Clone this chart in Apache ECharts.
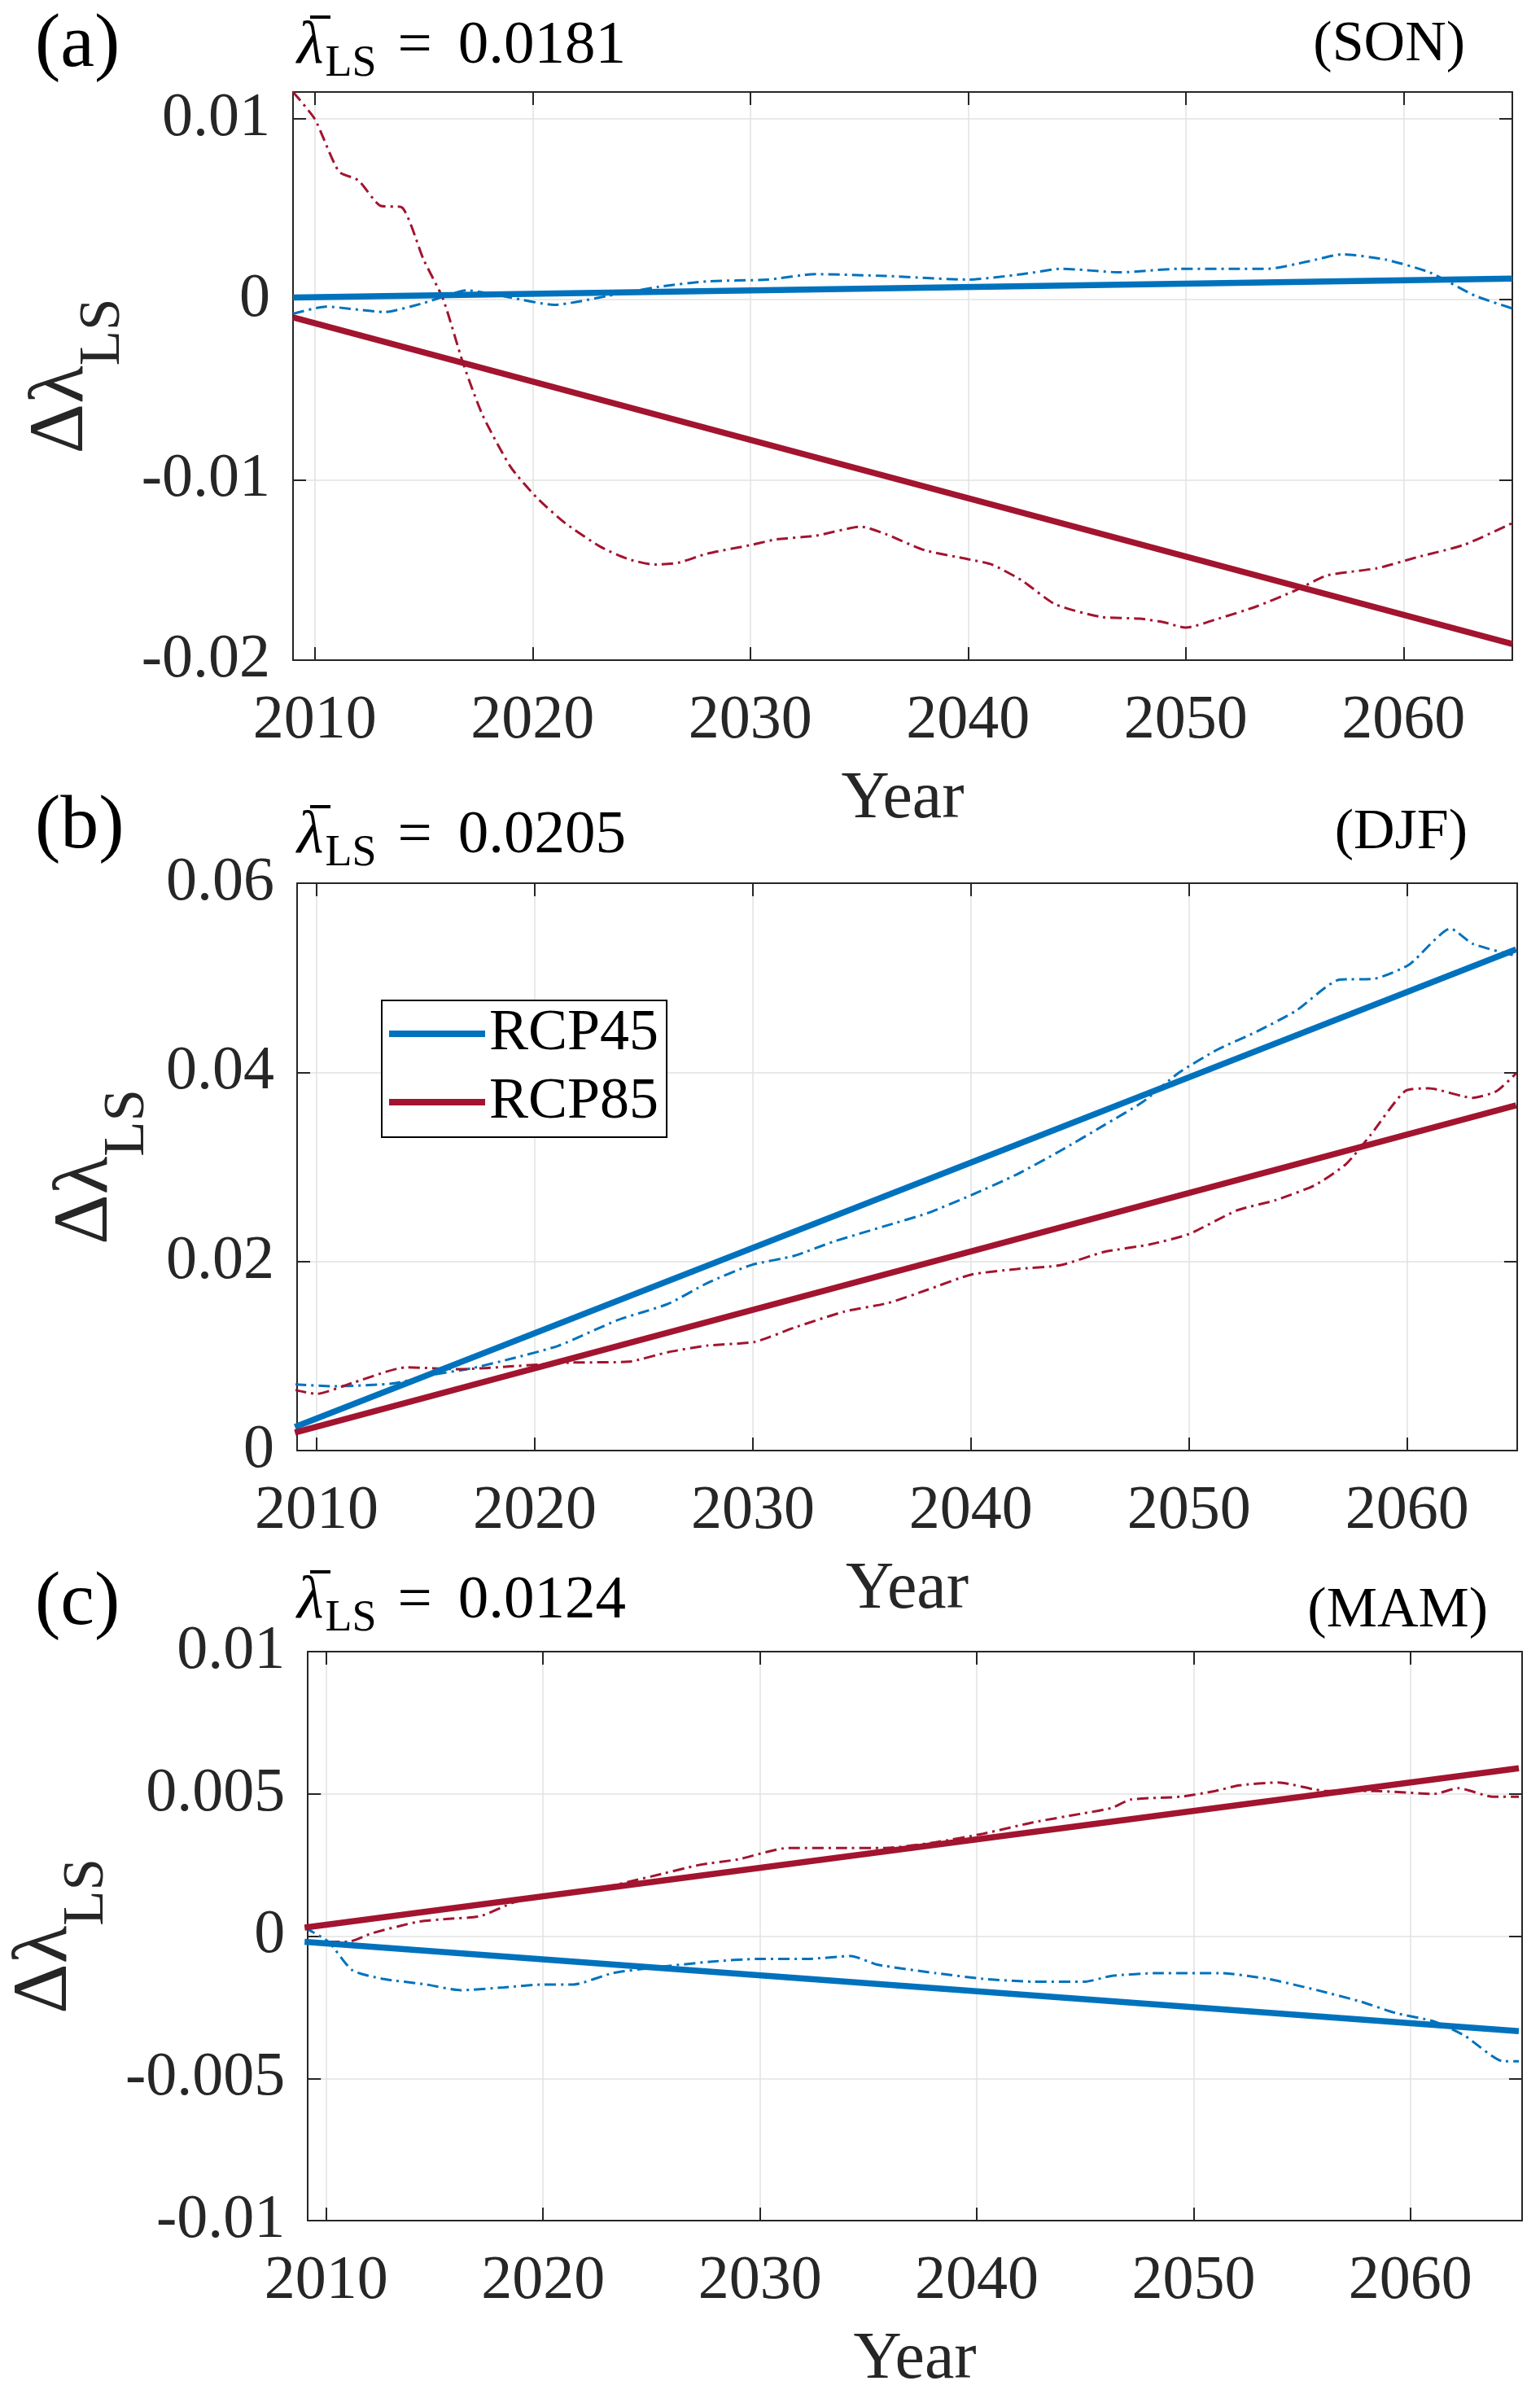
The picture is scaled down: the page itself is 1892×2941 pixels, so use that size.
<!DOCTYPE html>
<html>
<head>
<meta charset="utf-8">
<script src="https://cdn.jsdelivr.net/npm/echarts@6/dist/echarts.min.js"></script>
<style>
  html, body { margin: 0; padding: 0; background: #fff; }
  #container { width: 1892px; height: 2941px; }
</style>
</head>
<body>
<div id="container"></div>
<script>
// data (years, delta lambda_LS)
var fitYears = [2009, 2065];

// (a) SON
var sonYears45 = [2009, 2010.5, 2013.2, 2015, 2017, 2019, 2021, 2023.5, 2025.8, 2028, 2030.8, 2033, 2036.2, 2040, 2042.5, 2044.3, 2047, 2049.7, 2052.2, 2053.8, 2055.6, 2057.2, 2059.2, 2061.2, 2063.3, 2065];
var son45 = [-0.0008, -0.0004, -0.0007, -0.0002, 0.0005, 0.0001, -0.0003, 0.0002, 0.0007, 0.0010, 0.0011, 0.0014, 0.0013, 0.0011, 0.0014, 0.0017, 0.0015, 0.0017, 0.0017, 0.0017, 0.0021, 0.0025, 0.0022, 0.0015, 0.0002, -0.0005];
var sonYears85 = [2009, 2010, 2011.1, 2012, 2013, 2014, 2015, 2015.9, 2016.8, 2017.7, 2019, 2020.2, 2021.5, 2023.1, 2024.4, 2025.6, 2026.7, 2028, 2030.1, 2031.2, 2033, 2035.1, 2036.2, 2038, 2040, 2041.1, 2042.5, 2044, 2046.1, 2047.9, 2049, 2050, 2051.5, 2053.3, 2055.1, 2056.5, 2058.8, 2060.6, 2062.8, 2065];
var son85 = [0.0115, 0.0100, 0.0071, 0.0066, 0.0052, 0.0051, 0.0022, 0.0000, -0.0035, -0.0064, -0.0093, -0.0110, -0.0124, -0.0137, -0.0144, -0.0147, -0.0146, -0.0141, -0.0136, -0.0133, -0.0131, -0.0126, -0.0130, -0.0139, -0.0144, -0.0147, -0.0156, -0.0169, -0.0176, -0.0177, -0.0179, -0.0182, -0.0177, -0.0170, -0.0161, -0.0153, -0.0149, -0.0143, -0.0136, -0.0124];
var sonFit45 = [0.0001, 0.00115];
var sonFit85 = [-0.0010, -0.0191];

// (b) DJF
var djfYears45 = [2009, 2010.8, 2013.5, 2015.3, 2017.1, 2018.9, 2021.1, 2023.8, 2026.1, 2027.9, 2029.9, 2031.9, 2033.7, 2036, 2038, 2040, 2042.1, 2044.1, 2046.1, 2047.9, 2049.5, 2051.3, 2053.1, 2054.9, 2056.9, 2058.5, 2060.1, 2062, 2063, 2065];
var djf45 = [0.0070, 0.0068, 0.0071, 0.0080, 0.0087, 0.0097, 0.0111, 0.0138, 0.0155, 0.0177, 0.0196, 0.0206, 0.0221, 0.0237, 0.0251, 0.0270, 0.0292, 0.0317, 0.0344, 0.0369, 0.0399, 0.0424, 0.0443, 0.0465, 0.0498, 0.0499, 0.0514, 0.0552, 0.0536, 0.0523];
var djfYears85 = [2009, 2010, 2011.7, 2014.1, 2016.6, 2018.9, 2021.6, 2024.3, 2026.1, 2027.9, 2030.1, 2031.9, 2034.2, 2036.2, 2038, 2040, 2042.1, 2044.1, 2046.1, 2048.2, 2050, 2052.2, 2054, 2055.8, 2057.2, 2058.3, 2059.9, 2061, 2063, 2064.1, 2065];
var djf85 = [0.0064, 0.0060, 0.0072, 0.0088, 0.0086, 0.0089, 0.0093, 0.0094, 0.0104, 0.0111, 0.0115, 0.0130, 0.0147, 0.0156, 0.0170, 0.0186, 0.0192, 0.0196, 0.0210, 0.0218, 0.0229, 0.0254, 0.0265, 0.0281, 0.0303, 0.0333, 0.0380, 0.0383, 0.0373, 0.0380, 0.0399];
var djfFit45 = [0.0025, 0.0530];
var djfFit85 = [0.0019, 0.0365];

// (c) MAM
var mamYears45 = [2009, 2010.1, 2011.2, 2012.6, 2014.6, 2016.2, 2018.2, 2020, 2021.4, 2023.2, 2025.2, 2027.7, 2029.9, 2032.2, 2034.2, 2035.4, 2038.1, 2040.3, 2042.6, 2045, 2046.2, 2048.4, 2051.2, 2053.4, 2055.7, 2057.7, 2059.3, 2061.1, 2062.5, 2064.3, 2065];
var mam45 = [0.0003, -0.0002, -0.0012, -0.0015, -0.0017, -0.0019, -0.0018, -0.0017, -0.0017, -0.0013, -0.0011, -0.0009, -0.0008, -0.0008, -0.0007, -0.0010, -0.0013, -0.0015, -0.0016, -0.0016, -0.0014, -0.0013, -0.0013, -0.0015, -0.0019, -0.0023, -0.0027, -0.0030, -0.0035, -0.0044, -0.0044];
var mamYears85 = [2009, 2011, 2012.1, 2014.2, 2015.5, 2017.1, 2018.7, 2020.5, 2022.7, 2025, 2027.2, 2029, 2031.3, 2033.6, 2035.8, 2038.1, 2040.3, 2042.6, 2044.8, 2046.2, 2047.1, 2049.4, 2051, 2052.1, 2053.9, 2056.1, 2058.4, 2061.1, 2062.2, 2063.8, 2065];
var mam85 = [-0.0002, -0.0002, 0.0001, 0.0005, 0.0006, 0.0007, 0.0012, 0.0015, 0.0017, 0.0021, 0.0025, 0.0027, 0.0031, 0.0031, 0.0031, 0.0033, 0.0036, 0.0040, 0.0043, 0.0045, 0.0048, 0.0049, 0.0051, 0.0053, 0.0054, 0.0051, 0.0051, 0.0050, 0.0052, 0.0049, 0.0049];
var mamFit45 = [-0.0002, -0.00334];
var mamFit85 = [0.0003, 0.0059];

var panelTags = ['(a)', '(b)', '(c)'];
var seasons = ['(SON)', '(DJF)', '(MAM)'];
var meanLambda = ['0.0181', '0.0205', '0.0124'];

var BLUE = '#0072BD';
var RED = '#A2142F';
var INK = '#262626';
var FONT = 'Liberation Serif';

var dom = document.getElementById('container');
var myChart = echarts.init(dom, null, { renderer: 'canvas' });

function pairs(xs, ys) {
    return xs.map(function (x, i) { return [x, ys[i]]; });
}

// layout of the three panels
var panels = [
    { grid: { left: 360, top: 113, width: 1498, height: 698 }, xMin: 2009, xMax: 2065,
      yMin: -0.02, yMax: 0.0115, yStep: 0.01, yMaxLabel: false,
      tagTop: 9, meanTop: 20, seasonTop: 21, seasonRight: 92,
      s45: pairs(sonYears45, son45), s85: pairs(sonYears85, son85),
      f45: pairs(fitYears, sonFit45), f85: pairs(fitYears, sonFit85) },
    { grid: { left: 365, top: 1085, width: 1499, height: 697 }, xMin: 2009.1, xMax: 2065.05,
      yMin: 0, yMax: 0.06, yStep: 0.02, yMaxLabel: true,
      tagTop: 969, meanTop: 990, seasonTop: 989, seasonRight: 89,
      s45: pairs(djfYears45, djf45), s85: pairs(djfYears85, djf85),
      f45: pairs(fitYears, djfFit45), f85: pairs(fitYears, djfFit85) },
    { grid: { left: 374, top: 2029, width: 1496, height: 712 }, xMin: 2009.15, xMax: 2065.15,
      yMin: -0.01, yMax: 0.01, yStep: 0.005, yMaxLabel: true,
      tagTop: 1923, meanTop: 1930, seasonTop: 1945, seasonRight: 64,
      s45: pairs(mamYears45, mam45), s85: pairs(mamYears85, mam85),
      f45: pairs(fitYears, mamFit45), f85: pairs(fitYears, mamFit85) }
];

var boxLine = { show: true, onZero: false, lineStyle: { color: INK, width: 2 } };
var inTick = { show: true, inside: true, length: 16, lineStyle: { color: INK, width: 2 } };
var gridLine = { show: true, lineStyle: { color: '#e2e2e2', width: 1.5 } };

var grids = [], xAxes = [], yAxes = [], series = [], titles = [], bars = [];

panels.forEach(function (p, i) {
    grids.push(p.grid);

    xAxes.push({
        type: 'value', gridIndex: i, position: 'bottom', min: p.xMin, max: p.xMax, splitNumber: 5,
        name: 'Year', nameLocation: 'middle', nameGap: 130,
        nameTextStyle: { fontFamily: FONT, fontSize: 82, lineHeight: 82, color: INK },
        axisLine: boxLine, axisTick: inTick, splitLine: gridLine,
        axisLabel: { margin: 37, fontFamily: FONT, fontSize: 76, lineHeight: 76, color: INK,
                     showMinLabel: false, showMaxLabel: false,
                     formatter: function (v) { return String(v); } }
    });
    xAxes.push({
        type: 'value', gridIndex: i, position: 'top', min: p.xMin, max: p.xMax, splitNumber: 5,
        axisLine: boxLine, axisTick: inTick, splitLine: { show: false }, axisLabel: { show: false }
    });

    yAxes.push({
        type: 'value', gridIndex: i, position: 'left', min: p.yMin, max: p.yMax, interval: p.yStep,
        name: '{d|Δλ}{s|LS}', nameLocation: 'middle', nameRotate: 90, nameGap: 199,
        nameTextStyle: {
            color: INK,
            rich: {
                d: { fontFamily: FONT, fontSize: 96, lineHeight: 96, verticalAlign: 'top', color: INK },
                s: { fontFamily: FONT, fontSize: 71, lineHeight: 71, verticalAlign: 'top', padding: [64, 0, 0, 0], color: INK }
            }
        },
        axisLine: boxLine, axisTick: inTick, splitLine: gridLine,
        axisLabel: { margin: 28, fontFamily: FONT, fontSize: 76, color: INK, showMaxLabel: p.yMaxLabel }
    });
    yAxes.push({
        type: 'value', gridIndex: i, position: 'right', min: p.yMin, max: p.yMax, interval: p.yStep,
        axisLine: boxLine, axisTick: inTick, splitLine: { show: false }, axisLabel: { show: false }
    });

    var ax = { xAxisIndex: 2 * i, yAxisIndex: 2 * i, type: 'line', symbol: 'none', showSymbol: false, silent: true };
    series.push(Object.assign({ name: 'RCP45 series', data: p.s45, smooth: 0.2,
        itemStyle: { color: BLUE }, lineStyle: { color: BLUE, width: 3, type: [14, 6, 3, 6] } }, ax));
    series.push(Object.assign({ name: 'RCP85 series', data: p.s85, smooth: 0.2,
        itemStyle: { color: RED }, lineStyle: { color: RED, width: 3, type: [14, 6, 3, 6] } }, ax));
    series.push(Object.assign({ name: 'RCP45', data: p.f45,
        itemStyle: { color: BLUE }, lineStyle: { color: BLUE, width: 7.5 } }, ax));
    series.push(Object.assign({ name: 'RCP85', data: p.f85,
        itemStyle: { color: RED }, lineStyle: { color: RED, width: 7.5 } }, ax));

    titles.push({
        text: panelTags[i], left: 43, top: p.tagTop, padding: 0,
        textStyle: { fontFamily: FONT, fontSize: 94, lineHeight: 94, fontWeight: 'normal', color: '#000' }
    });
    titles.push({
        text: '{l|\u03BB}{s|LS}{e|=}{n|' + meanLambda[i] + '}', left: 365, top: p.meanTop, padding: 0,
        textStyle: {
            fontFamily: FONT, fontSize: 75, fontWeight: 'normal', color: '#000',
            rich: {
                l: { fontFamily: FONT, fontSize: 75, lineHeight: 75, fontStyle: 'italic', verticalAlign: 'top', color: '#000' },
                s: { fontFamily: FONT, fontSize: 54, lineHeight: 54, verticalAlign: 'top', padding: [32, 0, 0, 2], color: '#000' },
                e: { fontFamily: FONT, fontSize: 75, lineHeight: 75, verticalAlign: 'top', padding: [0, 32, 0, 26], color: '#000' },
                n: { fontFamily: FONT, fontSize: 75, lineHeight: 75, verticalAlign: 'top', color: '#000' }
            }
        }
    });
    titles.push({
        text: seasons[i], right: p.seasonRight, top: p.seasonTop, padding: 0,
        textStyle: { fontFamily: FONT, fontSize: 70, lineHeight: 70, fontWeight: 'normal', color: '#000' }
    });
    // bar over lambda (mean)
    bars.push({ type: 'rect', left: 381, top: p.meanTop - 1, shape: { width: 25, height: 4 }, style: { fill: '#000' } });
});

var option = {
    backgroundColor: '#fff',
    animation: false,
    textStyle: { fontFamily: FONT },
    title: titles,
    graphic: bars,
    legend: {
        data: [{ name: 'RCP45', icon: 'rect' }, { name: 'RCP85', icon: 'rect' }],
        orient: 'vertical', left: 469, top: 1229,
        itemWidth: 118, itemHeight: 8, itemGap: 12,
        padding: [5, 10, 7, 9],
        borderColor: '#000', borderWidth: 2, backgroundColor: '#fff',
        selectedMode: false,
        textStyle: { fontFamily: FONT, fontSize: 72, lineHeight: 72, color: '#000' }
    },
    grid: grids,
    xAxis: xAxes,
    yAxis: yAxes,
    series: series
};

if (option && typeof option === 'object') {
    myChart.setOption(option);
}
</script>
</body>
</html>
